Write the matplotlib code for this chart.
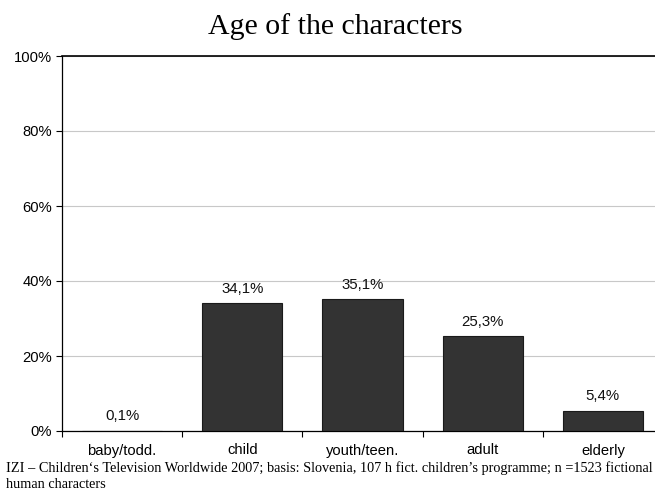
import matplotlib
matplotlib.use("Agg")
import matplotlib.pyplot as plt
import numpy as np

categories = ["baby/todd.", "child", "youth/teen.", "adult", "elderly"]
values = [0.1, 34.1, 35.1, 25.3, 5.4]
yticks = [0, 20, 40, 60, 80, 100]
title = "Age of the characters"
note1 = "IZI \u2013 Children\u2018s Television Worldwide 2007; basis: Slovenia, 107 h fict. children\u2019s programme; n =1523 fictional"
note2 = "human characters"

fig = plt.figure(figsize=(6.55, 4.99), dpi=100)
ax = fig.add_axes([62/655, 68/499, 601/655, 375/499])
x = np.arange(len(categories))
ax.bar(x, values, width=0.667, color="#333333", edgecolor="#1a1a1a", linewidth=0.8, zorder=3)
for xi, v in zip(x, values):
    ax.text(xi, v + 2.0, f"{v:.1f}%".replace(".", ","), ha="center", va="bottom",
            fontsize=10.8, family="Liberation Sans", color="#111111")
ax.set_xlim(-0.5, len(categories) - 0.5)
ax.set_ylim(0, 100)
ax.set_yticks(yticks)
ax.set_yticklabels([f"{t}%" for t in yticks], family="Liberation Sans", fontsize=10.6)
ax.set_xticks(np.arange(len(categories) + 1) - 0.5)
ax.set_xticklabels([])
ax.set_xticks(x, minor=True)
ax.set_xticklabels(categories, minor=True, family="Liberation Sans", fontsize=10.6)
ax.tick_params(axis="x", which="minor", length=0, pad=9)
ax.tick_params(axis="x", which="major", direction="out", length=4, width=0.8)
ax.tick_params(axis="y", direction="out", length=4, width=0.8, pad=3)
ax.yaxis.grid(True, color="#c8c8c8", linewidth=0.8, zorder=0)
ax.spines["right"].set_visible(False)
ax.spines["top"].set_linewidth(1.2)
for s in ["left", "bottom"]:
    ax.spines[s].set_linewidth(0.9)

fig.text(335/655, 1 - 27/499, title, ha="center", va="center", family="Liberation Serif", fontsize=21.5)
fig.text(6/655, 1 - 468/499, note1, ha="left", va="center", family="Liberation Serif", fontsize=10.3)
fig.text(6/655, 1 - 484/499, note2, ha="left", va="center", family="Liberation Serif", fontsize=10.3)

fig.savefig("out.png", dpi=100)
